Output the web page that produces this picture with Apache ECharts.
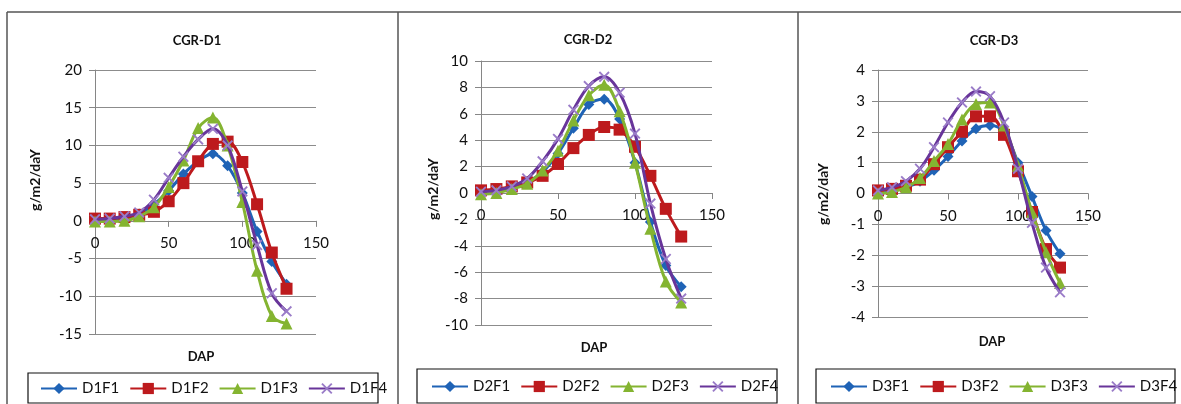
<!DOCTYPE html>
<html><head><meta charset="utf-8">
<script src="https://cdn.jsdelivr.net/npm/echarts@6/dist/echarts.min.js"></script>
<style>html,body{margin:0;padding:0;background:#fff}#c{width:1181px;height:404px}</style>
</head><body><div id="c"></div>
<script>
const dap = [0,10,20,30,40,50,60,70,80,90,100,110,120,130];
const xTicks = [0,50,100,150];
const titles = ['CGR-D1','CGR-D2','CGR-D3'];
const seriesNames = [['D1F1','D1F2','D1F3','D1F4'],['D2F1','D2F2','D2F3','D2F4'],['D3F1','D3F2','D3F3','D3F4']];

const D1F1 = [0.1,0.2,0.4,0.9,2.2,4.0,6.2,7.9,8.9,7.3,3.7,-1.4,-5.4,-8.4];
const D1F2 = [0.3,0.3,0.5,0.8,1.2,2.6,5.0,7.9,10.2,10.5,7.8,2.2,-4.2,-9.0];
const D1F3 = [-0.1,-0.1,0.0,0.6,1.8,4.5,8.0,12.3,13.7,10.0,2.5,-6.6,-12.6,-13.6];
const D1F4 = [0.2,0.3,0.6,1.1,2.8,5.7,8.5,10.8,12.2,10.0,3.9,-3.2,-9.6,-12.0];

const D2F1 = [0.1,0.2,0.4,0.8,1.6,3.0,4.9,6.7,7.1,5.6,2.3,-2.2,-5.5,-7.1];
const D2F2 = [0.2,0.3,0.5,0.8,1.3,2.2,3.4,4.4,5.0,4.8,3.5,1.3,-1.2,-3.3];
const D2F3 = [-0.1,0.0,0.3,0.7,1.7,3.2,5.5,7.4,8.2,6.2,2.3,-2.7,-6.7,-8.3];
const D2F4 = [0.1,0.2,0.5,1.1,2.4,4.1,6.3,8.1,8.8,7.6,4.5,-0.8,-5.0,-8.0];

const D3F1 = [0.05,0.1,0.2,0.4,0.75,1.2,1.7,2.1,2.2,2.0,1.0,-0.1,-1.2,-1.95];
const D3F2 = [0.1,0.15,0.25,0.45,0.95,1.5,2.0,2.5,2.5,1.9,0.72,-0.6,-1.8,-2.4];
const D3F3 = [0.0,0.05,0.2,0.5,1.05,1.6,2.4,2.9,2.95,2.2,0.9,-0.6,-1.9,-2.9];
const D3F4 = [0.1,0.2,0.4,0.8,1.5,2.3,2.95,3.3,3.15,2.3,0.8,-0.95,-2.4,-3.2];

const yRanges = [[-15,20,5],[-10,10,2],[-4,4,1]];
const values = [[D1F1,D1F2,D1F3,D1F4],[D2F1,D2F2,D2F3,D2F4],[D3F1,D3F2,D3F3,D3F4]];

const FONT = 'Lato, "Open Sans", sans-serif';
const lineColors = ['#1f63b6','#bd1a1d','#84b431','#68359a'];
const markColors = ['#1f63b6','#bd1a1d','#84b431','#9a7cc8'];
const xPath = 'path://M0,1.2L1.2,0L5,3.8L8.8,0L10,1.2L6.2,5L10,8.8L8.8,10L5,6.2L1.2,10L0,8.8L3.8,5Z';
const symbols = ['diamond','rect','triangle',xPath];
const symSizes = [11,12,12,11];

const grids = [
  {left:95, top:70, width:221, height:264},
  {left:481, top:61, width:231, height:264},
  {left:878, top:70, width:210, height:247}
];
const yNamePos = [[35,180],[433,189],[823,194]];
const xNamePos = [[201,357],[594,348],[992,342]];
const titlePos = [[197,41],[588,40],[994,41]];
const legendBox = [[28,373,350,30],[417,369,360,34],[816,369,359,34]];
const legendLeft = [40,431,830];

// x axis crosses the y axis at value 0: shift it up from the bottom by the zero's position on the y scale
function zeroOffset(i){
  const r = yRanges[i];
  return -grids[i].height * (0 - r[0]) / (r[1] - r[0]);
}

const option = {
  animation:false,
  backgroundColor:'#fff',
  textStyle:{fontFamily:FONT},
  grid: grids,
  xAxis: grids.map((g,i)=>({
    type:'value', gridIndex:i, min:xTicks[0], max:xTicks[xTicks.length-1], interval:50,
    position:'bottom', offset: zeroOffset(i),
    axisLine:{show:true,onZero:false,lineStyle:{color:'#868686',width:1}},
    axisTick:{show:true,length:6,lineStyle:{color:'#868686'}},
    axisLabel:{color:'#111',fontSize:15,fontFamily:FONT,margin:15},
    splitLine:{show:false}
  })),
  yAxis: grids.map((g,i)=>({
    type:'value', gridIndex:i, min:yRanges[i][0], max:yRanges[i][1], interval:yRanges[i][2],
    axisLine:{show:true,onZero:false,lineStyle:{color:'#868686',width:1}},
    axisTick:{show:true,length:6,lineStyle:{color:'#868686'}},
    axisLabel:{color:'#111',fontSize:15,fontFamily:FONT,margin:13},
    splitLine:{show:true,lineStyle:{color:'#8c8c8c',width:1}}
  })),
  legend: seriesNames.map((names,i)=>({
    data:names, left:legendLeft[i], top:legendBox[i][1]+ (legendBox[i][3]/2) - 7,
    itemWidth:36, itemHeight:14, itemGap:10, padding:0,
    textStyle:{fontSize:15,color:'#111',fontFamily:FONT}
  })),
  series: [],
  graphic: []
};

values.forEach((group,gi)=>{
  group.forEach((vals,si)=>{
    option.series.push({
      name:seriesNames[gi][si], type:'line', xAxisIndex:gi, yAxisIndex:gi,
      data: dap.map((d,k)=>[d,vals[k]]),
      smooth:0.35, symbol:symbols[si], symbolSize:symSizes[si],
      lineStyle:{color:lineColors[si],width:3},
      itemStyle:{color:markColors[si]},
      z: 2+si
    });
  });
});

const G = option.graphic;
G.push({type:'line',shape:{x1:7,y1:12,x2:1181,y2:12},style:{stroke:'#555',lineWidth:1.5}});
[7,398,798].forEach(x=>G.push({type:'line',shape:{x1:x,y1:12,x2:x,y2:404},style:{stroke:'#555',lineWidth:1.5}}));
for(let i=0;i<3;i++){
  G.push({type:'text',x:titlePos[i][0],y:titlePos[i][1],style:{text:titles[i],font:'bold 13px '+FONT,fill:'#111',textAlign:'center',textVerticalAlign:'middle'}});
  G.push({type:'text',x:yNamePos[i][0],y:yNamePos[i][1],rotation:Math.PI/2,style:{text:'g/m2/daY',font:'bold 14px '+FONT,fill:'#111',textAlign:'center',textVerticalAlign:'middle'}});
  G.push({type:'text',x:xNamePos[i][0],y:xNamePos[i][1],style:{text:'DAP',font:'bold 13px '+FONT,fill:'#111',textAlign:'center',textVerticalAlign:'middle'}});
  const b = legendBox[i];
  G.push({type:'rect',shape:{x:b[0],y:b[1],width:b[2],height:b[3]},style:{fill:'none',stroke:'#111',lineWidth:1.2},z:-1});
}

const chart = echarts.init(document.getElementById('c'),null,{renderer:'canvas'});
chart.setOption(option);
</script></body></html>
